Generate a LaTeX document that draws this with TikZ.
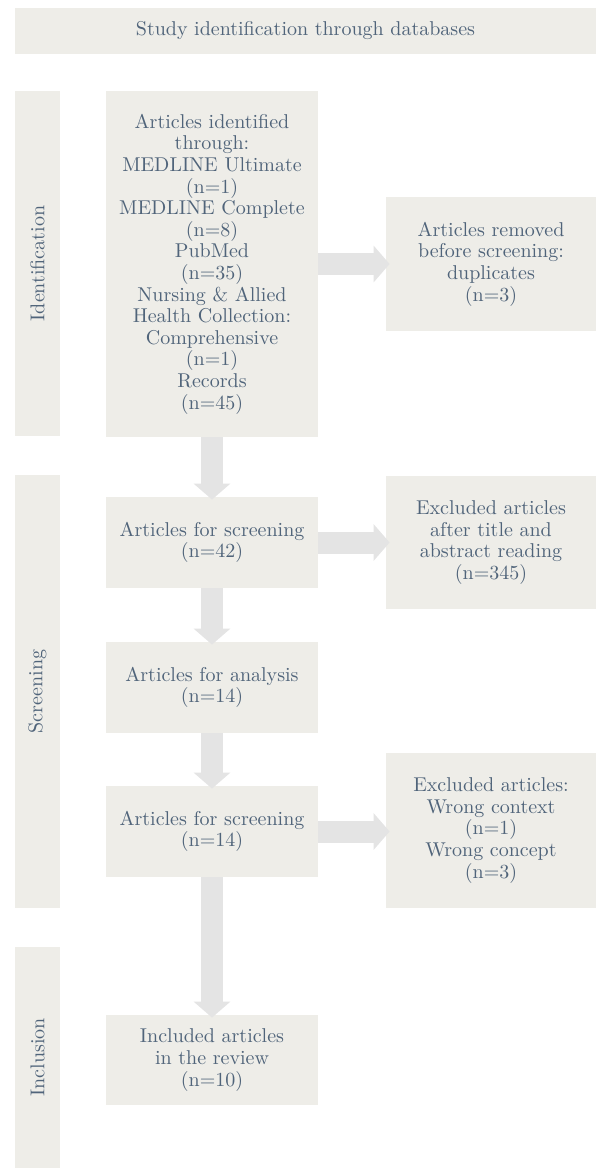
\documentclass[tikz,border=0pt]{standalone}
\usetikzlibrary{arrows.meta}
\definecolor{boxfill}{RGB}{238,237,232}
\definecolor{arrowgray}{RGB}{228,228,228}
\definecolor{textcol}{RGB}{80,100,122}
\tikzset{
  box/.style={fill=boxfill, text=textcol, align=center, inner sep=0pt,
    font=\fontsize{10pt}{10.8pt}\selectfont},
  band/.style={box, rotate=90, minimum height=22.5pt},
  flow/.style={draw=arrowgray, line width=11pt, -{Triangle[width=18pt,length=8pt]}}
}
\begin{document}
\begin{tikzpicture}[x=0.5pt, y=-0.5pt]
\useasboundingbox (0,0) rectangle (596,1168);
    % header and phases
\node[box, minimum width=290.5pt, minimum height=23pt] (head) at (305.5,31) {Study identification through databases};

\node[band, minimum width=172.5pt] (idband) at (37.5,263.5) {Identification};
\node[band, minimum width=216.5pt] (scrband) at (37.5,691.5) {Screening};
\node[band, minimum width=110.5pt] (incband) at (37.5,1057.5) {Inclusion};

    % main column
\node[box, minimum width=106pt, minimum height=173pt] (ident) at (212,264)
  {Articles identified\\through:\\MEDLINE Ultimate\\(n=1)\\MEDLINE Complete\\(n=8)\\PubMed\\(n=35)\\Nursing \& Allied\\Health Collection:\\Comprehensive\\(n=1)\\Records\\(n=45)};
\node[box, minimum width=106pt, minimum height=45.5pt] (screen) at (212,542.5) {Articles for screening\\(n=42)};
\node[box, minimum width=106pt, minimum height=45.5pt] (analysis) at (212,687.5) {Articles for analysis\\(n=14)};
\node[box, minimum width=106pt, minimum height=45.5pt] (screenb) at (212,831.5) {Articles for screening\\(n=14)};
\node[box, minimum width=106pt, minimum height=45pt] (incl) at (212,1060) {Included articles\\in the review\\(n=10)};

    % side column
\node[box, minimum width=105pt, minimum height=67pt] (removed) at (491,264) {Articles removed\\before screening:\\duplicates\\(n=3)};
\node[box, minimum width=105pt, minimum height=66.5pt] (excla) at (491,542.5) {Excluded articles\\after title and\\abstract reading\\(n=345)};
\node[box, minimum width=105pt, minimum height=77.5pt] (exclb) at (491,830.5) {Excluded articles:\\Wrong context\\(n=1)\\Wrong concept\\(n=3)};

    % arrows
\draw[flow] (ident.south) -- ([yshift=-1.5pt]screen.north);
\draw[flow] (screen.south) -- ([yshift=-1.5pt]analysis.north);
\draw[flow] (analysis.south) -- ([yshift=-1.5pt]screenb.north);
\draw[flow] (screenb.south) -- ([yshift=-1.5pt]incl.north);

\draw[flow] (ident.east) -- ([xshift=2pt]removed.west);
\draw[flow] (screen.east) -- ([xshift=2pt]excla.west |- screen.east);
\draw[flow] (screenb.east) -- ([xshift=2pt]exclb.west |- screenb.east);
\end{tikzpicture}
\end{document}
